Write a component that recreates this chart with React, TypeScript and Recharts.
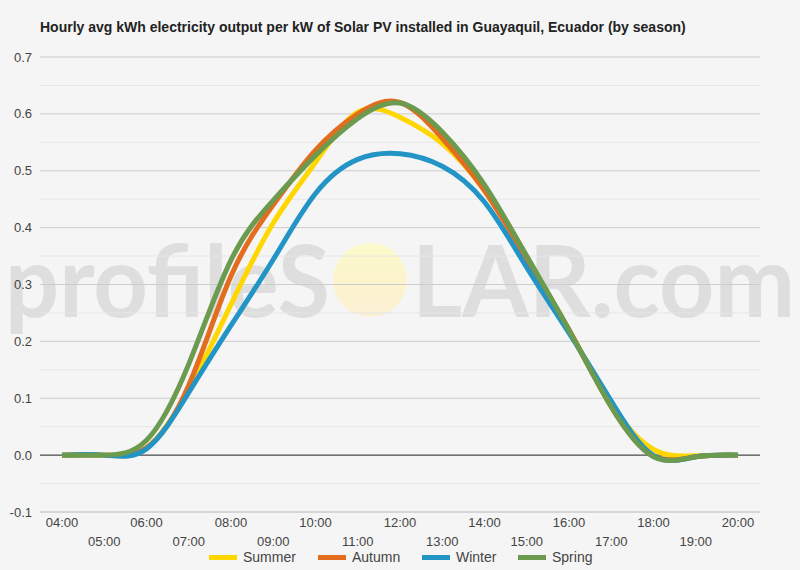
import { LineChart, Line, XAxis, YAxis, CartesianGrid, ReferenceLine } from 'recharts'

const hours = ['04:00', '05:00', '06:00', '07:00', '08:00', '09:00', '10:00', '11:00', '12:00', '13:00', '14:00', '15:00', '16:00', '17:00', '18:00', '19:00', '20:00']
const summer = [0, 0, 0.013, 0.115, 0.265, 0.408, 0.515, 0.603, 0.594, 0.548, 0.465, 0.345, 0.22, 0.09, 0.01, -0.001, 0]
const autumn = [0, 0, 0.013, 0.123, 0.315, 0.44, 0.536, 0.6, 0.62, 0.557, 0.465, 0.345, 0.22, 0.085, -0.001, -0.003, 0]
const winter = [0, 0, 0.011, 0.11, 0.228, 0.344, 0.46, 0.52, 0.53, 0.508, 0.445, 0.33, 0.215, 0.095, -0.001, -0.003, 0]
const spring = [0, 0, 0.026, 0.16, 0.343, 0.448, 0.527, 0.592, 0.619, 0.568, 0.475, 0.35, 0.22, 0.085, -0.003, -0.003, 0]

const yTicks = [-0.1, 0, 0.1, 0.2, 0.3, 0.4, 0.5, 0.6, 0.7]
const minorTicks = [-0.05, 0.05, 0.15, 0.25, 0.35, 0.45, 0.55, 0.65]

const seasons = [
  { key: 'summer', name: 'Summer', color: '#ffd700' },
  { key: 'autumn', name: 'Autumn', color: '#e36c1e' },
  { key: 'winter', name: 'Winter', color: '#2394c6' },
  { key: 'spring', name: 'Spring', color: '#6c9a4f' },
]

const data = hours.map((h, i) => ({
  hour: h,
  summer: summer[i],
  autumn: autumn[i],
  winter: winter[i],
  spring: spring[i],
}))

const FONT = '"Liberation Sans", Arial, sans-serif'

function HourTick(props: any) {
  const { x, y, payload, index } = props
  const odd = index % 2 === 1
  return (
    <text x={x} y={y + (odd ? 34 : 15)} textAnchor="middle" fill="#444" fontSize={13} fontFamily={FONT}>
      {payload.value}
    </text>
  )
}

function Watermark() {
  return (
    <svg width={800} height={570} style={{ position: 'absolute', left: 0, top: 0 }}>
      <defs>
        <linearGradient id="sun" x1="0" y1="0" x2="0" y2="1">
          <stop offset="0%" stopColor="#fbf9c9" />
          <stop offset="100%" stopColor="#fcefd3" />
        </linearGradient>
      </defs>
      <text x={5} y={317} fontSize={100} fontWeight={700} fontFamily="Lato, sans-serif" fill="#dedede" textLength={325} lengthAdjust="spacingAndGlyphs">
        profileS
      </text>
      <circle cx={370} cy={280} r={37} fill="url(#sun)" />
      <text x={412} y={317} fontSize={100} fontWeight={700} fontFamily="Lato, sans-serif" fill="#dedede" textLength={383} lengthAdjust="spacingAndGlyphs">
        LAR.com
      </text>
    </svg>
  )
}

export default function App() {
  return (
    <div style={{ position: 'absolute', left: 0, top: 0, width: 800, height: 570, background: '#f5f5f5', fontFamily: FONT }}>
      <Watermark />
      <div style={{ position: 'absolute', left: 40, top: 19, fontSize: 14, fontWeight: 700, color: '#222' }}>
        Hourly avg kWh electricity output per kW of Solar PV installed in Guayaquil, Ecuador (by season)
      </div>
      <div style={{ position: 'absolute', left: 0, top: 0 }}>
        <LineChart width={800} height={570} data={data} margin={{ top: 57, right: 40, bottom: 18, left: 0 }}>
          <CartesianGrid vertical={false} horizontalValues={minorTicks} stroke="#e6e6e6" />
          <CartesianGrid vertical={false} horizontalValues={yTicks} stroke="#cccccc" />
          <XAxis
            dataKey="hour"
            interval={0}
            height={40}
            padding={{ left: 22, right: 22 }}
            tickLine={false}
            tickSize={0}
            tickMargin={0}
            stroke="#cccccc"
            tick={<HourTick />}
          />
          <YAxis
            width={40}
            domain={[-0.1, 0.7]}
            ticks={yTicks}
            tickFormatter={(v: number) => v.toFixed(1)}
            axisLine={false}
            tickLine={false}
            tickSize={0}
            tickMargin={8}
            tick={{ fill: '#444', fontSize: 13, fontFamily: FONT }}
          />
          <ReferenceLine y={0} stroke="#333" strokeWidth={1} />
          {seasons.map((s) => (
            <Line
              key={s.key}
              type="natural"
              dataKey={s.key}
              name={s.name}
              stroke={s.color}
              strokeWidth={5}
              dot={false}
              isAnimationActive={false}
            />
          ))}
        </LineChart>
      </div>
      {seasons.map((s, i) => {
        const left = [209, 318, 422, 518][i]
        return (
          <div key={s.key} style={{ position: 'absolute', left, top: 549, display: 'flex', alignItems: 'center', fontSize: 14, color: '#444' }}>
            <span style={{ display: 'inline-block', width: 28, height: 5, background: s.color, marginRight: 6 }} />
            {s.name}
          </div>
        )
      })}
    </div>
  )
}
